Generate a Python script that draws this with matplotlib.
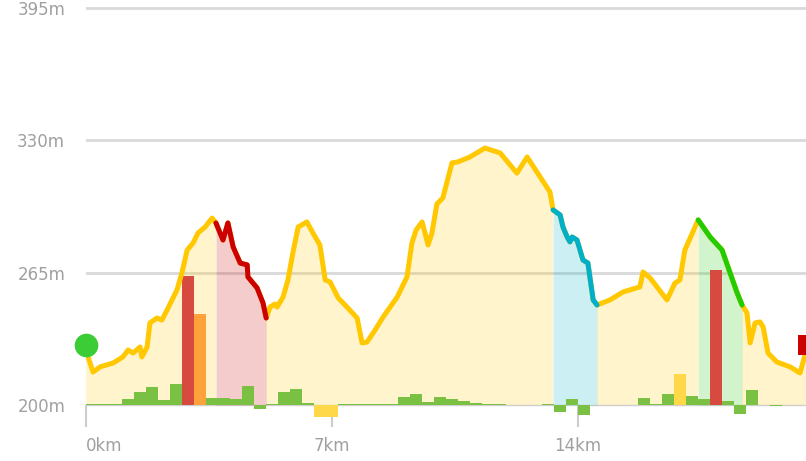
import matplotlib
matplotlib.use("Agg")
import matplotlib.pyplot as plt
import numpy as np

# elevation profile (km, m)
dist_km = [0.00, 0.06, 0.20, 0.40, 0.77, 1.05, 1.20, 1.34, 1.54, 1.59, 1.74, 1.82, 2.02, 2.16, 2.31,
           2.59, 2.73, 2.88, 3.05, 3.19, 3.39, 3.59, 3.70,
           3.90, 4.04, 4.19, 4.39, 4.59, 4.61, 4.87, 5.04, 5.13,
           5.24, 5.38, 5.44, 5.61, 5.75, 5.89, 6.04, 6.29, 6.46, 6.66, 6.81, 6.95, 7.18, 7.43, 7.72,
           7.86, 8.00, 8.23, 8.46, 8.86, 9.14, 9.28, 9.40, 9.57, 9.74, 9.85, 9.99, 10.16, 10.42, 10.59,
           10.93, 11.36, 11.79, 12.27, 12.56, 12.84, 13.21, 13.30,
           13.50, 13.58, 13.70, 13.78, 13.84, 13.98, 14.15, 14.29, 14.44, 14.55,
           14.92, 15.29, 15.77, 15.86, 16.06, 16.54, 16.77, 16.91, 17.05, 17.43,
           17.77, 18.11, 18.34, 18.54, 18.68,
           18.82, 18.91, 19.05, 19.19, 19.28, 19.42, 19.67, 20.05, 20.33, 20.55]
elev_m = [229.5, 223.6, 216.2, 218.7, 220.6, 223.6, 227.0, 225.5, 228.5, 223.6, 228.5, 240.3, 242.7, 241.7, 246.7,
          256.5, 264.8, 276.1, 279.6, 284.5, 287.4, 291.8, 289.4,
          281.0, 289.4, 277.6, 269.7, 268.8, 262.9, 257.5, 250.1, 242.7,
          248.1, 249.6, 248.1, 253.0, 261.4, 274.7, 287.4, 289.9, 284.5, 278.6, 261.4, 260.4, 252.6, 248.1, 242.7,
          230.5, 230.9, 236.8, 243.2, 253.0, 262.9, 279.6, 286.0, 289.9, 278.6, 284.5, 298.7, 301.7, 318.9, 319.4,
          321.8, 326.2, 323.8, 313.9, 321.8, 314.4, 304.6, 295.8,
          293.3, 287.4, 282.5, 280.1, 282.5, 281.0, 271.2, 269.7, 251.6, 249.1,
          251.6, 255.5, 258.0, 265.3, 262.4, 251.6, 259.9, 261.4, 276.1, 290.9,
          282.5, 276.1, 264.8, 255.0, 249.1,
          245.2, 230.5, 240.3, 240.8, 238.3, 225.5, 221.1, 218.7, 215.7, 229.5]

# highlighted stretches (start km, end km, colour)
segments = [(3.70, 5.13, "#cc0000"), (13.30, 14.55, "#00afc8"), (17.43, 18.68, "#22cc00")]

# bars along the route, one per bucket (m above/below the 200m baseline)
bar_vals = [0.3, 0.3, 0.5, 3.0, 6.4, 8.8, 2.5, 10.3, 63.4, 44.7,
            3.4, 3.4, 2.9, 9.3, -2.0, 0.5, 6.4, 7.9, 1.0, -5.9,
            -5.9, 0.3, 0.3, 0.3, 0.7, 0.7, 3.9, 5.4, 1.5, 3.9,
            2.7, 2.0, 1.0, 0.3, 0.3, 0.0, 0.0, 0.0, 0.3, -3.4,
            2.7, -4.7, 0.0, 0.0, 0.0, 0.0, 3.4, 0.3, 5.4, 15.2,
            4.4, 3.0, 66.3, 2.0, -4.4, 7.4, 0.0, -0.6, 0.0, 0.0]
bar_special = {8: "#d64a3f", 9: "#ffa23c", 19: "#ffd84a", 20: "#ffd84a", 49: "#ffd84a", 52: "#d64a3f"}
route_len = 20.5

xticks = [0, 7, 14]
yticks = [200, 265, 330, 395]

fig = plt.figure(figsize=(8.06, 4.61), dpi=100)
ax = fig.add_axes([86 / 806, 1 - 429.4 / 461, 720 / 806, 425.5 / 461])
ax.set_xlim(0, route_len)
ax.set_ylim(188, 397)

for v in yticks[1:]:
    ax.axhline(v, color="#d9d9d9", lw=2, zorder=1)
ax.axhline(200, color="#d0d0d0", lw=1, zorder=1)

d = np.array(dist_km)
e = np.array(elev_m)

# fill under the profile
plain = np.ones(len(d), dtype=bool)
for s, t, c in segments:
    inside = (d >= s) & (d <= t)
    ax.fill_between(d, 200, e, where=inside, color=c, alpha=0.2, lw=0, zorder=2)
    plain &= ~((d > s) & (d < t))
ax.fill_between(d, 200, e, where=plain, color="#ffc800", alpha=0.2, lw=0, zorder=2)

# bars
bw = route_len / len(bar_vals)
bx = np.arange(len(bar_vals)) * bw
bcol = [bar_special.get(i, "#7ac143") for i in range(len(bar_vals))]
ax.bar(bx, bar_vals, width=bw, bottom=200, align="edge", color=bcol, lw=0, zorder=3)

# profile line
ax.plot(d, e, color="#ffc800", lw=3.6, solid_capstyle="round", solid_joinstyle="round", zorder=4)
for s, t, c in segments:
    m = (d >= s) & (d <= t)
    ax.plot(d[m], e[m], color=c, lw=3.6, solid_capstyle="round", solid_joinstyle="round", zorder=5)

ax.plot(d[0], e[0], "o", color="#3ccc35", ms=17, mew=0, zorder=6, clip_on=False)
ax.plot(d[-1], e[-1], "s", color="#cc0000", ms=14, mew=0, zorder=6, clip_on=False)

for sp in ["top", "right", "left"]:
    ax.spines[sp].set_visible(False)
ax.spines["bottom"].set_position(("data", 200))
ax.spines["bottom"].set_visible(False)

ax.set_xticks(xticks)
ax.set_xticklabels([f"{v}km" for v in xticks])
ax.set_yticks(yticks)
ax.set_yticklabels([f"{v}m" for v in yticks])
ax.tick_params(axis="x", length=16, width=1.5, color="#cccccc", pad=7, labelcolor="#a0a0a0", labelsize=12)
ax.tick_params(axis="y", length=0, pad=15, labelcolor="#a0a0a0", labelsize=12)
ax.get_xticklabels()[0].set_ha("left")

plt.savefig("out.png", dpi=100)
